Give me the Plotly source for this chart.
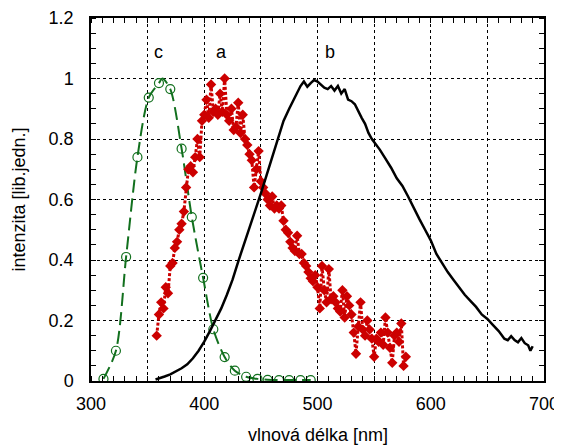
import plotly.graph_objects as go

# --- curve a (red, noisy, diamonds) ---
a_x = list(range(358, 580, 2))
a_y = [0.15, 0.22, 0.26, 0.24, 0.31, 0.29, 0.38, 0.39, 0.44, 0.46,
       0.50, 0.52, 0.56, 0.64, 0.70, 0.71, 0.69, 0.74, 0.80, 0.74,
       0.86, 0.88, 0.93, 0.87, 0.98, 0.89, 0.90, 0.88, 0.95, 0.89,
       1.00, 0.88, 0.86, 0.90, 0.83, 0.84, 0.92, 0.82, 0.88, 0.80,
       0.78, 0.75, 0.73, 0.64, 0.70, 0.76, 0.66, 0.64, 0.62, 0.60,
       0.58, 0.61, 0.57, 0.58, 0.57, 0.58, 0.53, 0.50, 0.49, 0.46,
       0.44, 0.43, 0.48, 0.42, 0.42, 0.39, 0.38, 0.36, 0.34, 0.33,
       0.35, 0.31, 0.24, 0.38, 0.30, 0.26, 0.37, 0.27, 0.28, 0.26,
       0.24, 0.23, 0.30, 0.21, 0.28, 0.25, 0.22, 0.16, 0.09, 0.18,
       0.26, 0.17, 0.15, 0.20, 0.17, 0.14, 0.08, 0.14, 0.13, 0.16,
       0.12, 0.21, 0.16, 0.11, 0.06, 0.15, 0.16, 0.13, 0.19, 0.05,
       0.08]

# --- curve b (black) ---
b_x = [357, 360, 365, 370, 375, 380, 385, 390, 395, 400, 405, 410, 415, 420,
       425, 430, 435, 440, 445, 450, 455, 460, 465, 470, 475, 480, 485, 488,
       491, 494, 497, 500, 503, 506, 509, 512, 515, 518, 521, 524, 527, 530,
       533, 536, 539, 542, 545, 548, 551, 555, 560, 565, 570, 575, 580, 585,
       590, 595, 600, 605, 610, 615, 620, 625, 630, 635, 640, 645, 650, 655,
       660, 665, 668, 671, 674, 677, 680, 683, 686, 688, 690]
b_y = [0.005, 0.008, 0.015, 0.022, 0.032, 0.042, 0.055, 0.075, 0.10, 0.13,
       0.165, 0.20, 0.24, 0.285, 0.335, 0.395, 0.45, 0.51, 0.565, 0.62,
       0.68, 0.74, 0.805, 0.86, 0.90, 0.94, 0.975, 0.99, 0.973, 0.985,
       0.995, 0.99, 0.98, 0.97, 0.965, 0.975, 0.96, 0.975, 0.95, 0.965,
       0.93, 0.925, 0.915, 0.89, 0.87, 0.85, 0.82, 0.80, 0.785, 0.765,
       0.735, 0.705, 0.67, 0.645, 0.61, 0.57, 0.535, 0.50, 0.465, 0.42,
       0.39, 0.36, 0.335, 0.31, 0.285, 0.265, 0.245, 0.22, 0.205, 0.185,
       0.165, 0.14, 0.135, 0.148, 0.135, 0.128, 0.142, 0.125, 0.118, 0.10,
       0.115]

# --- curve c (green, open circles) ---
c_x = [311, 322, 331, 341, 351, 360, 370, 380, 389, 399, 408, 418, 427, 437,
       447, 456, 466, 475, 485, 494]
c_y = [0.007, 0.10, 0.41, 0.74, 0.937, 0.985, 0.965, 0.768, 0.542, 0.341,
       0.171, 0.079, 0.034, 0.014, 0.007, 0.004, 0.003, 0.003, 0.003, 0.003]
c_line_x = [311, 322, 331, 341, 351, 360, 363, 370, 380, 389, 399, 408, 418,
            427, 437, 447, 456, 466, 475, 485, 494]
c_line_y = [0.007, 0.10, 0.41, 0.74, 0.937, 0.985, 1.0, 0.965, 0.768, 0.542,
            0.341, 0.171, 0.079, 0.034, 0.014, 0.007, 0.004, 0.003, 0.003,
            0.003, 0.003]

labels = ["c", "a", "b"]
label_x = [359.5, 415, 511]
label_y = [1.087, 1.087, 1.087]

x_ticks = [300, 350, 400, 450, 500, 550, 600, 650, 700]
x_ticktext = ["300", "", "400", "", "500", "", "600", "", "700"]
y_ticks = [0, 0.2, 0.4, 0.6, 0.8, 1.0, 1.2]
y_ticktext = ["0", "0.2", "0.4", "0.6", "0.8", "1", "1.2"]

x_title = "vlnová délka [nm]"
y_title = "intenzita [lib.jedn.]"

RED = "#cc0000"
GREEN = "#12701e"
FONT = "Liberation Sans, Arial, sans-serif"

fig = go.Figure()
fig.add_trace(go.Scatter(x=c_line_x, y=c_line_y, mode="lines",
                         line=dict(color=GREEN, width=2, dash="13px,6px", shape="spline", smoothing=0.8),
                         hoverinfo="skip", showlegend=False))
fig.add_trace(go.Scatter(x=c_x, y=c_y, mode="markers",
                         marker=dict(symbol="circle-open", size=9, color=GREEN, line=dict(width=1.2)),
                         showlegend=False))
fig.add_trace(go.Scatter(x=a_x, y=a_y, mode="lines",
                         line=dict(color=RED, width=3, dash="3px,2px"),
                         showlegend=False))
fig.add_trace(go.Scatter(x=a_x, y=a_y, mode="markers",
                         marker=dict(symbol="diamond", size=8, color=RED),
                         showlegend=False))
fig.add_trace(go.Scatter(x=b_x, y=b_y, mode="lines",
                         line=dict(color="black", width=2.5),
                         showlegend=False))

for t, lx, ly in zip(labels, label_x, label_y):
    fig.add_annotation(x=lx, y=ly, text=t, showarrow=False,
                       font=dict(family=FONT, size=18, color="black"))

fig.add_annotation(xref="paper", yref="paper", x=0.5, y=0, text=x_title, showarrow=False,
                   xanchor="center", yanchor="middle", yshift=-54,
                   font=dict(family=FONT, size=18, color="black"))
fig.add_annotation(xref="paper", yref="paper", x=0, y=0.5, text=y_title, showarrow=False,
                   xanchor="center", yanchor="middle", xshift=-73, textangle=-90,
                   font=dict(family=FONT, size=18, color="black"))

axis_common = dict(
    showline=True, linecolor="black", linewidth=1.5, mirror="ticks",
    showgrid=True, gridcolor="black", gridwidth=1, griddash="dot",
    zeroline=False, ticks="", tickfont=dict(family=FONT, size=18, color="black"),
    automargin=False,
)

fig.update_layout(
    width=562, height=445,
    margin=dict(l=83, r=26, t=10, b=72),
    paper_bgcolor="white", plot_bgcolor="white",
    xaxis=dict(range=[300, 700], tickmode="array", tickvals=x_ticks, ticktext=x_ticktext,
               minor=dict(dtick=10, ticks="inside", ticklen=5, tickcolor="black", showgrid=False),
               ticklabelstandoff=6, **axis_common),
    yaxis=dict(range=[0, 1.2], tickmode="array", tickvals=y_ticks, ticktext=y_ticktext,
               minor=dict(dtick=0.05, ticks="inside", ticklen=5, tickcolor="black", showgrid=False),
               ticklabelstandoff=12, **axis_common),
)

fig.write_html("out.html")
